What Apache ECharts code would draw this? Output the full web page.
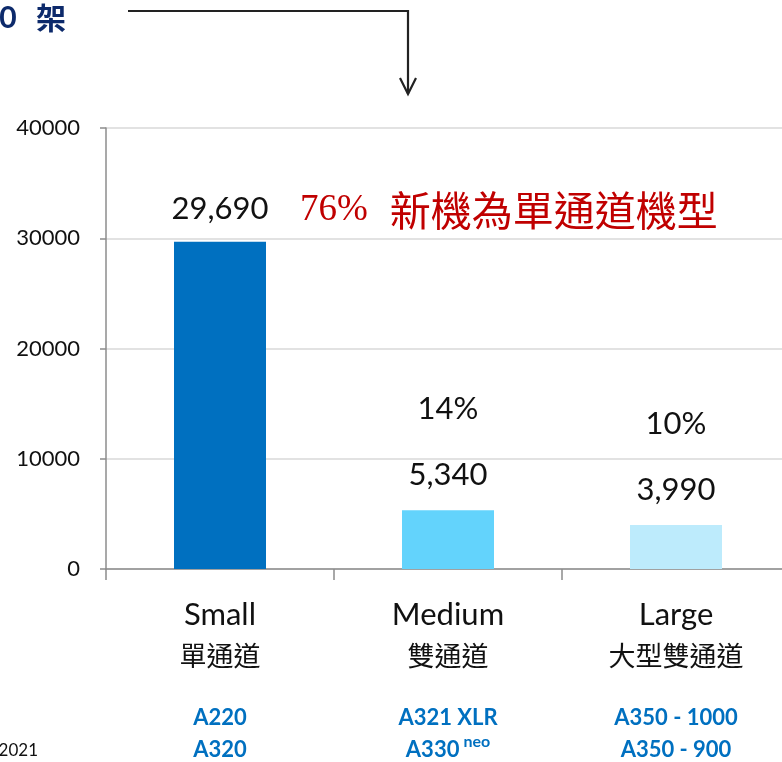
<!DOCTYPE html>
<html><head><meta charset="utf-8">
<script src="https://cdn.jsdelivr.net/npm/echarts@6/dist/echarts.min.js"></script>
<style>html,body{margin:0;padding:0;background:#fff}#c{width:782px;height:762px}</style>
</head><body><div id="c"></div>
<script>
const categories = ['Small', 'Medium', 'Large'];
const categoriesZh = ['單通道', '雙通道', '大型雙通道'];
const models = [['A220', 'A320'], ['A321 XLR', 'A330|neo'], ['A350 - 1000', 'A350 - 900']];
const values = [29690, 5340, 3990];
const shares = ['76%', '14%', '10%'];
const barColors = ['#0070C0', '#63D3FC', '#BDEBFC'];
const yTicks = [0, 10000, 20000, 30000, 40000];
const totalText = '39,020 ';
const totalUnit = '架';
const headline = '新機為單通道機型';
const sourceText = 'Source: Airbus GMF 2021';

const chart = echarts.init(document.getElementById('c'));
const fmt = v => v.toLocaleString('en-US');
const LAT = 'Lato, "Noto Sans", sans-serif';
const CJK = '"Noto Sans CJK TC", serif';

const data = values.map((v, i) => ({
  value: v,
  itemStyle: { color: barColors[i] },
  label: i === 0 ? { formatter: fmt(v) } : { formatter: '{p|' + shares[i] + '}\n{v|' + fmt(v) + '}' }
}));

function modelLine(s, style) {
  const parts = s.split('|');
  return '{' + style + '|' + parts[0] + '}' + (parts[1] ? '{sup|' + parts[1] + '}' : '');
}

chart.setOption({
  animation: false,
  grid: { left: 106, top: 128, height: 441, width: 684, outerBoundsMode: 'none', containLabel: false },
  xAxis: {
    type: 'category',
    data: categories,
    axisLine: { lineStyle: { color: '#8c8c8c', width: 1.5 } },
    axisTick: { show: true, length: 11, lineStyle: { color: '#8c8c8c', width: 1.5 } },
    axisLabel: {
      margin: 26,
      interval: 0,
      formatter: (val, idx) => '{en|' + val + '}\n{zh|' + categoriesZh[idx] + '}\n{s| }\n' +
        modelLine(models[idx][0], 'm') + '\n' + modelLine(models[idx][1], 'm'),
      rich: {
        en: { fontFamily: LAT, fontSize: 31, color: '#111', lineHeight: 40 },
        zh: { fontFamily: CJK, fontSize: 27, color: '#111', lineHeight: 42 },
        s: { fontSize: 10, lineHeight: 25 },
        m: { fontFamily: LAT, fontSize: 22, fontWeight: 'bold', color: '#0070C0', lineHeight: 32 },
        sup: { fontFamily: LAT, fontSize: 16, fontWeight: 'bold', color: '#0070C0', lineHeight: 32, verticalAlign: 'top', padding: [0, 0, 12, 4] }
      }
    }
  },
  yAxis: {
    type: 'value',
    min: 0, max: 40000, interval: 10000,
    axisLine: { show: true, lineStyle: { color: '#8c8c8c', width: 1.5 } },
    axisTick: { show: true, length: 6, lineStyle: { color: '#8c8c8c', width: 1.5 } },
    splitLine: { lineStyle: { color: '#d9d9d9', width: 1.5 } },
    axisLabel: {
      margin: 26,
      color: '#111', fontFamily: LAT, fontSize: 22,
      formatter: v => yTicks.includes(v) ? String(v) : ''
    }
  },
  series: [{
    type: 'bar',
    data: data,
    barWidth: 92,
    label: {
      show: true, position: 'top', distance: 17,
      color: '#111', fontFamily: LAT, fontSize: 31,
      rich: {
        p: { fontFamily: LAT, fontSize: 31, color: '#111', lineHeight: 96 },
        v: { fontFamily: LAT, fontSize: 31, color: '#111', lineHeight: 36 }
      }
    }
  }],
  graphic: [
    { type: 'text', x: 66, y: 18, style: {
        text: '{a|' + totalText + '}{b|' + totalUnit + '}', align: 'right', verticalAlign: 'middle',
        rich: {
          a: { fill: '#0d2a6b', fontFamily: LAT, fontSize: 30, fontWeight: 'bold', padding: [0, 12, 0, 0] },
          b: { fill: '#0d2a6b', fontFamily: CJK, fontSize: 30, fontWeight: 'bold' }
        } } },
    { type: 'polyline', shape: { points: [[128, 11], [408, 11], [408, 94]] }, style: { stroke: '#222', lineWidth: 2.2, fill: null } },
    { type: 'polyline', shape: { points: [[400, 78], [408, 94], [416, 78]] }, style: { stroke: '#222', lineWidth: 2.2, fill: null } },
    { type: 'text', x: 38, y: 751, style: { text: sourceText, align: 'right', verticalAlign: 'middle', fill: '#111', font: '17px Lato, sans-serif' } },
    { type: 'text', x: 300, y: 210, style: {
        text: '{a|' + shares[0] + '}{b|' + headline + '}', verticalAlign: 'middle',
        rich: {
          a: { fill: '#C00000', fontFamily: '"Liberation Serif", serif', fontSize: 37, padding: [0, 22, 0, 0] },
          b: { fill: '#C00000', fontFamily: CJK, fontSize: 41 }
        }
    } }
  ]
});
</script>
</body></html>
